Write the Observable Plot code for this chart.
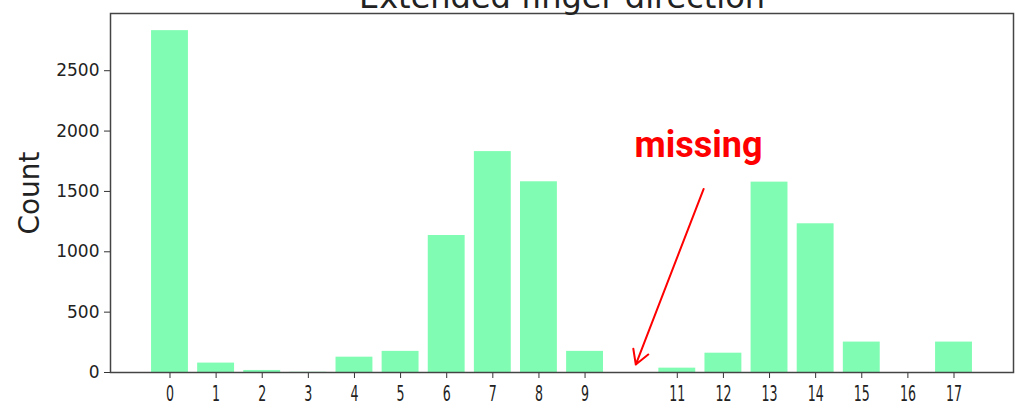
<!DOCTYPE html>
<html>
<head>
<meta charset="utf-8">
<script src="https://cdn.jsdelivr.net/npm/d3@7"></script>
<script src="https://cdn.jsdelivr.net/npm/@observablehq/plot@0.6"></script>
<style>
  html, body { margin: 0; padding: 0; background: #fff; overflow: hidden; }
  svg { display: block; }
</style>
</head>
<body>
<div id="chart"></div>
<script>
const categories = [0, 1, 2, 3, 4, 5, 6, 7, 8, 9, 11, 12, 13, 14, 15, 16, 17];
const counts = [2832, 78, 17, 2, 127, 175, 1135, 1830, 1580, 175, 36, 160, 1577, 1232, 252, 0, 252];
const yTicks = [0, 500, 1000, 1500, 2000, 2500];
const titleText = "Extended finger direction";
const yLabel = "Count";
const noteText = "missing";
const noteX = [11.46];
const noteY = [1786];
const arrowFromX = [11.57];
const arrowFromY = [1520];
const arrowToX = [10.1];
const arrowToY = [66];

const bars = categories.map((c, i) => ({c, v: counts[i]}));
const halfWidth = 0.4;
const yMax = 2974;

const plot = Plot.plot({
  width: 1025,
  height: 411,
  marginLeft: 110,
  marginRight: 12,
  marginTop: 13,
  marginBottom: 39,
  style: {fontFamily: "DejaVu Sans", color: "#222", background: "#fff", overflow: "visible"},
  x: {domain: [-1.29, 18.29]},
  y: {domain: [0, yMax]},
  marks: [
    Plot.rectY(bars, {x1: d => d.c - halfWidth, x2: d => d.c + halfWidth, y1: 0, y2: "v", fill: "#80fdb2"}),
    Plot.axisY({ticks: yTicks, tickFormat: d3.format("d"), tickSize: 6, tickPadding: 5, fontSize: 17, label: null, stroke: "#333"}),
    Plot.axisX({ticks: categories, tickFormat: d => String(d), tickSize: 6, tickPadding: 8, fontSize: 21, label: null, stroke: "#333", className: "xt"}),
    Plot.frame({stroke: "#444", strokeWidth: 1.5}),
    Plot.text([titleText], {text: d => d, frameAnchor: "top", lineAnchor: "bottom", dy: -6, fontSize: 32, fill: "#222"}),
    Plot.text([yLabel], {text: d => d, y: () => yMax / 2, frameAnchor: "left", textAnchor: "middle", rotate: -90, dx: -80, fontSize: 28, fill: "#222"}),
    Plot.arrow([0], {x1: i => arrowFromX[i], y1: i => arrowFromY[i], x2: i => arrowToX[i], y2: i => arrowToY[i], stroke: "red", strokeWidth: 2, headLength: 12}),
    Plot.text([0], {x: i => noteX[i], y: i => noteY[i], text: () => noteText, fontFamily: "Roboto", fontWeight: "bold", fontSize: 36, fill: "#ff0000", lineAnchor: "bottom"})
  ]
});
document.getElementById("chart").appendChild(plot);
// squeeze x tick labels horizontally like the reference
d3.select(plot).selectAll("g.xt text").each(function() {
  const t = this.getAttribute("transform") || "";
  this.setAttribute("transform", t + " scale(0.6,1)");
});
</script>
</body>
</html>
